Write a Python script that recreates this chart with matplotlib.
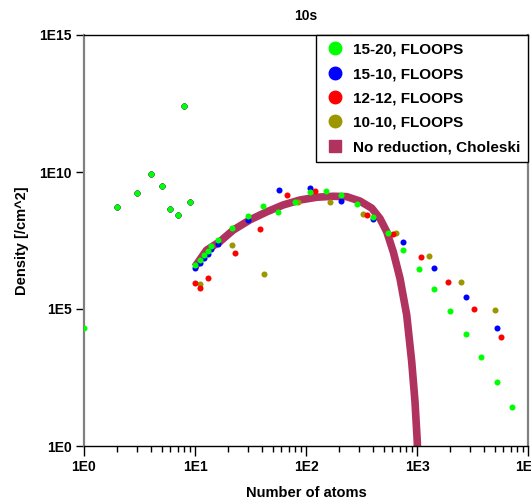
import numpy as np
import matplotlib
matplotlib.use("Agg")
import matplotlib.pyplot as plt
from matplotlib.ticker import FixedLocator, FuncFormatter, LogLocator, NullLocator
from matplotlib.lines import Line2D

plt.rcParams['font.family'] = ['Liberation Sans', 'DejaVu Sans']
plt.rcParams['font.weight'] = 'bold'

# small atoms 2..9 (same for every FLOOPS run)
cluster_x = [2, 3, 4, 5, 6, 7, 8, 9]
cluster_y = [5.4e8, 1.66e9, 8.5e9, 3.2e9, 4.4e8, 2.6e8, 2.6e12, 7.9e8]

green_x = [1] + cluster_x + [10, 11, 12, 13, 14, 16, 21.5, 30, 41, 56.5, 79, 109, 151, 208, 288,
                             401, 551, 748, 1036, 1422, 1971, 2747, 3773, 5224, 7224]
green_y = [2.0e4] + cluster_y + [4.1e6, 6.2e6, 9.1e6, 1.35e7, 1.95e7, 3.3e7, 9.3e7, 2.45e8, 5.9e8,
                                 3.5e8, 7.8e8, 1.86e9, 2.0e9, 1.4e9, 6.6e8, 2.3e8, 6.0e7, 1.4e7,
                                 2.9e6, 5.4e5, 8.5e4, 1.26e4, 1.8e3, 224, 27]

blue_x = cluster_x + [10, 11, 12, 13, 14, 16, 30, 57, 109, 208, 401, 748, 1422, 2747, 5224]
blue_y = cluster_y + [3.1e6, 4.7e6, 7.1e6, 1.02e7, 1.5e7, 2.4e7, 1.8e8, 2.2e9, 2.6e9, 8.9e8,
                      1.86e8, 2.8e7, 3.2e6, 2.75e5, 2.1e4]

red_x = cluster_x + [10, 11, 13, 23.1, 38.7, 67.9, 120, 357, 612, 1080, 1890, 3263, 5676]
red_y = cluster_y + [9.1e5, 6.0e5, 1.3e6, 1.07e7, 8.1e7, 1.45e9, 2.0e9, 2.7e8, 5.5e7, 8.1e6,
                     1.0e6, 1.0e5, 9.5e3]

olive_x = cluster_x + [11, 21.5, 42.1, 84.7, 164, 328, 643, 1282, 2490, 5012]
olive_y = cluster_y + [8.1e5, 2.1e7, 1.86e6, 8.3e8, 8.3e8, 2.95e8, 6.0e7, 8.9e6, 1.0e6, 9.1e4]

chol_x = [10.0, 12.7, 16.8, 22.1, 31.3, 44.2, 62.5, 88.3, 125, 176, 233, 306, 391, 464, 534,
          612, 703, 808, 896, 959, 1006, 1015]
chol_y = [3.5e6, 1.4e7, 2.9e7, 7.6e7, 1.8e8, 3.5e8, 6.3e8, 9.5e8, 1.2e9, 1.3e9, 1.26e9, 8.7e8,
          4.8e8, 2.0e8, 6.6e7, 1.2e7, 1.3e6, 6.0e4, 1.2e3, 42, 1.4, 0.2]

labels = ["15-20, FLOOPS", "15-10, FLOOPS", "12-12, FLOOPS", "10-10, FLOOPS", "No reduction, Choleski"]
colors = ["#00FF00", "#0000FF", "#FF0000", "#9C9600", "#B0325F"]

fig = plt.figure(figsize=(5.31, 5.04), dpi=100)
ax = fig.add_axes([84 / 531, 1 - 446 / 504, (528 - 84) / 531, (446 - 35) / 504])

ax.plot(chol_x, chol_y, color=colors[4], lw=5.5, solid_capstyle='butt', zorder=2)
ms = 19
ax.scatter(olive_x, olive_y, s=ms, color=colors[3], zorder=3, linewidths=0)
ax.scatter(red_x, red_y, s=ms, color=colors[2], zorder=4, linewidths=0)
ax.scatter(blue_x, blue_y, s=ms, color=colors[1], zorder=5, linewidths=0)
ax.scatter(green_x, green_y, s=ms, color=colors[0], zorder=6, linewidths=0)

ax.set_xscale('log')
ax.set_yscale('log')
ax.set_xlim(1, 1e4)
ax.set_ylim(1, 1e15)

fmt = FuncFormatter(lambda v, p: "1E%d" % int(round(np.log10(v))))
ax.xaxis.set_major_locator(FixedLocator([1, 10, 100, 1000, 10000]))
ax.xaxis.set_minor_locator(LogLocator(base=10, subs=np.arange(2, 10)))
ax.xaxis.set_major_formatter(fmt)
ax.xaxis.set_minor_formatter(FuncFormatter(lambda v, p: ""))
ax.yaxis.set_major_locator(FixedLocator([1, 1e5, 1e10, 1e15]))
ax.yaxis.set_minor_locator(NullLocator())
ax.yaxis.set_major_formatter(fmt)

ax.tick_params(axis='x', which='major', length=7, width=1, labelsize=10, pad=3)
ax.tick_params(axis='x', which='minor', length=4, width=1)
ax.tick_params(axis='y', which='major', length=6, width=1, labelsize=10, pad=3)

for s in ['left', 'right']:
    ax.spines[s].set_color('#808080')
    ax.spines[s].set_linewidth(1.6)
for s in ['top', 'bottom']:
    ax.spines[s].set_color('black')
    ax.spines[s].set_linewidth(1.0)

ax.set_title("10s", fontsize=10, fontweight='bold', pad=11)
ax.set_xlabel("Number of atoms", fontsize=10.5, fontweight='bold', labelpad=9)
ax.set_ylabel("Density [/cm^2]", fontsize=10.5, fontweight='bold', labelpad=7)

handles = [Line2D([], [], ls='none', marker='o', ms=9, color=c) for c in colors[:4]]
handles.append(Line2D([], [], ls='none', marker='s', ms=9, color=colors[4]))
leg = ax.legend(handles, labels, loc='upper right', borderaxespad=0, fancybox=False,
                edgecolor='black', framealpha=1, prop={'size': 11, 'weight': 'bold'},
                handletextpad=0.4, labelspacing=0.68, borderpad=0.5, handlelength=1.5)
leg.get_frame().set_linewidth(1.0)

fig.savefig("out.png", dpi=100)
